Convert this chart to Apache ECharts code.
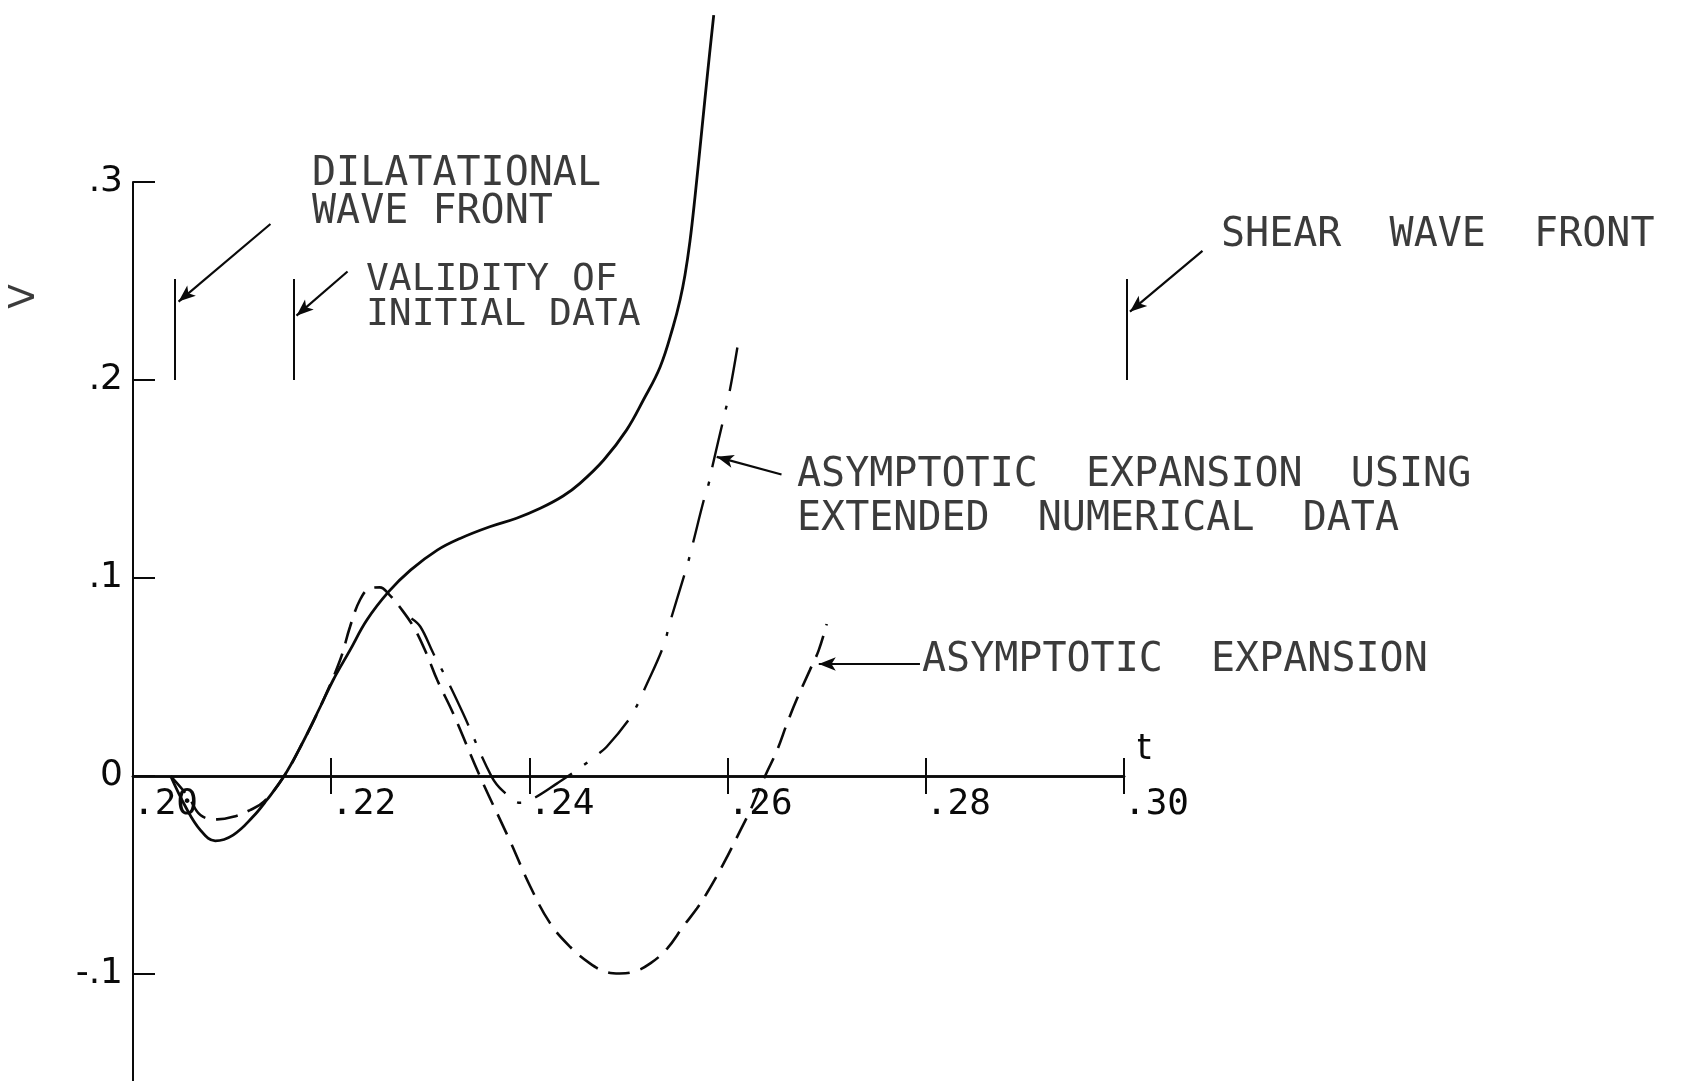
<!DOCTYPE html>
<html>
<head>
<meta charset="utf-8">
<title>V(t) near the wave fronts</title>
<script src="https://cdn.jsdelivr.net/npm/echarts@6/dist/echarts.min.js"></script>
<style>
  html, body { margin: 0; padding: 0; background: #ffffff; }
  #chart { width: 1701px; height: 1081px; }
</style>
</head>
<body>
<div id="chart"></div>
<script>
// ---- axis ticks -------------------------------------------------------
const tTicks = [0.20, 0.22, 0.24, 0.26, 0.28, 0.30];
const tTickLabels = ['.20', '.22', '.24', '.26', '.28', '.30'];
const vTicks = [-0.1, 0, 0.1, 0.2, 0.3];
const vTickLabels = ['-.1', '0', '.1', '.2', '.3'];

// ---- curves: [t, V] ---------------------------------------------------
// numerical solution
const numericalV = [
  [0.2038, 0.0000], [0.2053, -0.0155], [0.2068, -0.0273], [0.2083, -0.0327],
  [0.2101, -0.0298], [0.2121, -0.0206], [0.2135, -0.0121], [0.2152, -0.0004],
  [0.2169, 0.0148], [0.2189, 0.0350], [0.2202, 0.0485], [0.2219, 0.0636],
  [0.2236, 0.0788], [0.2258, 0.0931], [0.2280, 0.1040], [0.2307, 0.1141],
  [0.2330, 0.1200], [0.2360, 0.1259], [0.2387, 0.1302], [0.2411, 0.1352],
  [0.2434, 0.1414], [0.2451, 0.1478], [0.2475, 0.1596], [0.2498, 0.1747],
  [0.2515, 0.1899], [0.2532, 0.2067], [0.2545, 0.2269], [0.2552, 0.2404],
  [0.2557, 0.2530], [0.2562, 0.2700], [0.2567, 0.2920], [0.2574, 0.3263],
  [0.2580, 0.3560], [0.2586, 0.3843]
];

// asymptotic expansion
const asymptoticV = [
  [0.2038, 0.0000], [0.2056, -0.0105], [0.2068, -0.0197], [0.2085, -0.0219],
  [0.2101, -0.0206], [0.2118, -0.0172], [0.2132, -0.0130], [0.2152, -0.0004],
  [0.2169, 0.0148], [0.2189, 0.0350], [0.2209, 0.0586], [0.2219, 0.0754],
  [0.2229, 0.0889], [0.2239, 0.0948], [0.2249, 0.0953], [0.2259, 0.0914],
  [0.2269, 0.0855], [0.2283, 0.0754], [0.2296, 0.0620], [0.2307, 0.0485],
  [0.2323, 0.0317], [0.2350, 0.0000], [0.2380, -0.0323], [0.2401, -0.0559],
  [0.2421, -0.0744], [0.2441, -0.0862], [0.2461, -0.0946], [0.2478, -0.0990],
  [0.2491, -0.0997], [0.2505, -0.0989], [0.2522, -0.0946], [0.2539, -0.0871],
  [0.2555, -0.0761], [0.2569, -0.0669], [0.2579, -0.0592], [0.2596, -0.0441],
  [0.2613, -0.0273], [0.2623, -0.0172], [0.2633, -0.0054], [0.2639, 0.0013],
  [0.2650, 0.0131], [0.2660, 0.0266], [0.2670, 0.0390], [0.2683, 0.0535],
  [0.2692, 0.0636], [0.2700, 0.0768]
];

// asymptotic expansion using extended numerical data
const asymptoticExtendedV = [
  [0.2281, 0.0796], [0.2290, 0.0754], [0.2303, 0.0620], [0.2317, 0.0485],
  [0.2333, 0.0317], [0.2362, -0.0004], [0.2374, -0.0079], [0.2391, -0.0135],
  [0.2404, -0.0113], [0.2428, -0.0037], [0.2449, 0.0034], [0.2468, 0.0106],
  [0.2478, 0.0148], [0.2500, 0.0283], [0.2510, 0.0370], [0.2515, 0.0426],
  [0.2535, 0.0653], [0.2542, 0.0779], [0.2555, 0.0993], [0.2560, 0.1077],
  [0.2565, 0.1175], [0.2576, 0.1394], [0.2581, 0.1478], [0.2585, 0.1571],
  [0.2596, 0.1807], [0.2602, 0.1941], [0.2610, 0.2168]
];

// ---- fronts and notes -------------------------------------------------
const frontNames = ['DILATATIONAL\nWAVE FRONT', 'VALIDITY OF\nINITIAL DATA', 'SHEAR  WAVE  FRONT'];
const frontTimes = [0.2042, 0.2162, 0.3003];
const curveNotes = ['ASYMPTOTIC  EXPANSION  USING\nEXTENDED  NUMERICAL  DATA', 'ASYMPTOTIC  EXPANSION'];
const axisTitles = ['V', 't'];

const INK = '#0a0a0a';
const LETTERING = 'DejaVu Sans Mono';

const V_MIN = -0.154;
const V_MAX = 0.3;
const GRID = { left: 133, right: 577, top: 182, bottom: 0 };
const CHART_H = 1081;

function tickText(values, labels, v) {
  const i = values.findIndex(x => Math.abs(x - v) < 1e-6);
  return i < 0 ? String(v) : labels[i];
}

const chart = echarts.init(document.getElementById('chart'), null, { renderer: 'canvas' });

// the t axis sits at V = 0: shift it up from the bottom of the grid by the height of [V_MIN, 0]
const gridH = CHART_H - GRID.top - GRID.bottom;
const zeroLift = -Math.round(gridH * (0 - V_MIN) / (V_MAX - V_MIN));

// two t axes share one scale: one carries the tick halves below the line, the other the halves above
const xAxisBase = {
  type: 'value',
  min: 0.20,
  max: 0.30,
  interval: 0.02,
  position: 'bottom',
  offset: zeroLift,
  splitLine: { show: false },
  axisLine: { show: true, onZero: false, lineStyle: { color: INK, width: 2.6 } }
};

const option = {
  backgroundColor: '#ffffff',
  animation: false,
  textStyle: { fontFamily: LETTERING, color: INK },
  grid: Object.assign({ outerBoundsMode: 'none' }, GRID),
  xAxis: [
    Object.assign({}, xAxisBase, {
      name: axisTitles[1],
      nameLocation: 'end',
      nameGap: 13,
      nameTextStyle: {
        fontFamily: 'DejaVu Sans', fontSize: 36, color: INK,
        align: 'left', verticalAlign: 'bottom', padding: [0, 0, 8, 0]
      },
      axisTick: { show: true, inside: false, length: 18, lineStyle: { color: INK, width: 2 } },
      axisLabel: {
        show: true, showMinLabel: true, showMaxLabel: true, margin: 11, align: 'left',
        fontFamily: LETTERING, fontSize: 36, color: INK,
        formatter: v => tickText(tTicks, tTickLabels, v)
      }
    }),
    Object.assign({}, xAxisBase, {
      axisTick: { show: true, inside: true, length: 18, lineStyle: { color: INK, width: 2 } },
      axisLabel: { show: false }
    })
  ],
  yAxis: {
    type: 'value',
    min: V_MIN,
    max: V_MAX,
    splitLine: { show: false },
    axisLine: { show: true, onZero: false, lineStyle: { color: INK, width: 2 } },
    axisTick: { show: true, customValues: vTicks, inside: true, length: 22, lineStyle: { color: INK, width: 2 } },
    axisLabel: {
      show: true, customValues: vTicks, margin: 10,
      fontFamily: 'DejaVu Sans', fontSize: 36, color: INK, padding: [0, 0, 6, 0],
      formatter: v => tickText(vTicks, vTickLabels, v)
    }
  },
  series: [
    {
      name: 'numerical',
      type: 'line',
      data: numericalV,
      showSymbol: false,
      symbol: 'none',
      smooth: 0.4,
      clip: false,
      silent: true,
      z: 3,
      lineStyle: { color: INK, width: 2.8 }
    },
    {
      name: 'asymptotic expansion',
      type: 'line',
      data: asymptoticV,
      showSymbol: false,
      symbol: 'none',
      smooth: 0.4,
      clip: false,
      silent: true,
      z: 3,
      lineStyle: { color: INK, width: 2.6, type: [22, 11] }
    },
    {
      name: 'asymptotic expansion, extended data',
      type: 'line',
      data: asymptoticExtendedV,
      showSymbol: false,
      symbol: 'none',
      smooth: 0.4,
      clip: false,
      silent: true,
      z: 3,
      lineStyle: { color: INK, width: 2.4, type: [44, 15, 4, 15] }
    },
    {
      // short vertical bars marking the fronts
      name: 'fronts',
      type: 'lines',
      coordinateSystem: 'cartesian2d',
      clip: false,
      silent: true,
      z: 4,
      symbol: ['none', 'none'],
      lineStyle: { color: INK, width: 2, opacity: 1, curveness: 0 },
      data: frontTimes.map(t => ({ coords: [[t, 0.2], [t, 0.251]] }))
    },
    {
      // leader arrows from the notes
      name: 'leaders',
      type: 'lines',
      coordinateSystem: 'cartesian2d',
      clip: false,
      silent: true,
      z: 4,
      symbol: ['none', 'arrow'],
      symbolSize: [[1, 1], [10, 17]],
      lineStyle: { color: INK, width: 2.2, opacity: 1, curveness: 0 },
      data: [
        { coords: [[0.21387, 0.2788], [0.20460, 0.2396]] },
        { coords: [[0.22165, 0.2548], [0.21650, 0.2325]] },
        { coords: [[0.30792, 0.2652], [0.30060, 0.2345]] },
        { coords: [[0.26544, 0.1523], [0.25890, 0.1612]] },
        { coords: [[0.27941, 0.0566], [0.26920, 0.0566]] }
      ]
    },
    {
      name: 'notes',
      type: 'scatter',
      symbol: 'circle',
      symbolSize: 0,
      clip: false,
      silent: true,
      z: 5,
      label: {
        show: true,
        position: 'right',
        distance: 0,
        align: 'left',
        verticalAlign: 'middle',
        fontFamily: LETTERING,
        fontSize: 40,
        color: INK,
        formatter: p => p.name
      },
      data: [
        { name: frontNames[0], value: [0.21806, 0.2942], label: { lineHeight: 38 } },
        { name: frontNames[1], value: [0.22351, 0.2417], label: { fontSize: 38, lineHeight: 35 } },
        { name: frontNames[2], value: [0.30979, 0.2727] },
        { name: curveNotes[0], value: [0.26700, 0.1404], label: { lineHeight: 44 } },
        { name: curveNotes[1], value: [0.27962, 0.0581] },
        {
          name: axisTitles[0], value: [0.18905, 0.2422],
          label: { position: 'inside', align: 'center', rotate: 90, fontFamily: 'DejaVu Sans', fontSize: 36 }
        }
      ]
    }
  ]
};

chart.setOption(option);
</script>
</body>
</html>
